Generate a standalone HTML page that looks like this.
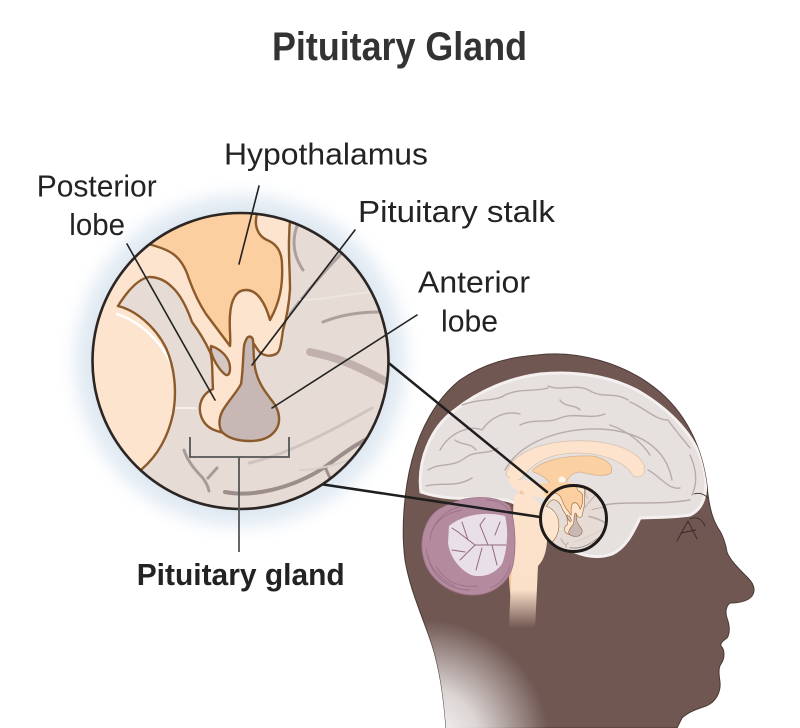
<!DOCTYPE html>
<html><head><meta charset="utf-8"><style>html,body{margin:0;padding:0;background:#fff}svg{display:block}</style></head>
<body>
<svg width="800" height="728" viewBox="0 0 800 728" xmlns="http://www.w3.org/2000/svg" xmlns:xlink="http://www.w3.org/1999/xlink">
<defs>
 <radialGradient id="halo" cx="240.5" cy="361" r="185" gradientUnits="userSpaceOnUse">
  <stop offset="0.78" stop-color="#dbe5ef"/>
  <stop offset="0.87" stop-color="#e9f0f6"/>
  <stop offset="1" stop-color="#ffffff" stop-opacity="0"/>
 </radialGradient>
 <linearGradient id="stem" x1="0" y1="490" x2="0" y2="628" gradientUnits="userSpaceOnUse">
  <stop offset="0" stop-color="#fde3cc"/>
  <stop offset="0.72" stop-color="#fbe0c9"/>
  <stop offset="1" stop-color="#705752"/>
 </linearGradient>
 <radialGradient id="fade" cx="425" cy="745" r="125" gradientUnits="userSpaceOnUse">
  <stop offset="0" stop-color="#fff" stop-opacity="1"/>
  <stop offset="0.45" stop-color="#fff" stop-opacity="0.75"/>
  <stop offset="1" stop-color="#fff" stop-opacity="0"/>
 </radialGradient>
 <clipPath id="bigclip"><circle cx="240.5" cy="361" r="148"/></clipPath>
 <clipPath id="smallclip"><circle cx="573.5" cy="518.5" r="33"/></clipPath>
 <clipPath id="headclip"><path d="M537,355 C575,350 625,362 660,392 C690,418 705,455 708,495 C710,510 713,520 718,528 C723,535 726,545 727,552 C730,560 738,568 748,578 C754,584 756,590 752,596 C748,601 740,603 730,603 C726,606 725,612 727,618 C730,626 730,634 727,638 C723,641 720,643 721,646 C725,650 725,658 721,664 C718,668 719,675 720,682 C721,692 716,702 706,706 C697,709 688,712 682,718 L677,728 L446,728 C444,700 440,670 432,645 C422,615 410,590 405,560 C401,530 404,490 412,460 C420,430 435,400 460,380 C485,363 510,357 537,355 Z"/></clipPath>

 <g id="mag">
  <rect x="80" y="200" width="330" height="330" fill="#e6dcd5"/>
  <g fill="none" stroke-linecap="round">
   <path d="M297,226 C292,240 293,255 303,270" stroke="#ad9f9c" stroke-width="3"/>
   <path d="M345,250 C330,265 312,285 290,314" stroke="#ad9f9c" stroke-width="3"/>
   <path d="M323,322 C340,315 360,312 380,312" stroke="#ad9f9c" stroke-width="3"/>
   <path d="M310,352 C330,356 352,362 390,384" stroke="#c0b1ae" stroke-width="8"/>
   <path d="M249,463 C272,458 305,446 372,408" stroke="#cfc4c0" stroke-width="3"/>
   <path d="M225,492 C250,497 290,490 325,467 C345,452 365,437 392,428" stroke="#9d8e8b" stroke-width="4"/>
   <path d="M325,467 L330,478" stroke="#9d8e8b" stroke-width="3"/>
   <path d="M184,450 C187,460 195,470 202,477 C206,482 208,486 209,491" stroke="#a99b98" stroke-width="3"/>
   <path d="M208,478 L217,468" stroke="#a99b98" stroke-width="3"/>
   <path d="M300,470 C330,470 360,455 392,445" stroke="#d8cfcb" stroke-width="2"/>
   <path d="M176,408 L196,408" stroke="#f4efec" stroke-width="2"/>
   <path d="M300,300 C330,300 360,290 392,292" stroke="#ece5e1" stroke-width="2"/>
  </g>
  <path d="M80,190 L292,190 L290,222 C287,245 290,265 290,289 C289,305 286,320 283,330 C281,345 280,352 276,354 C270,357 262,356 258,350 L253,342 L254,360 C255,372 258,382 264,390 L250,440 L215,432 C203,425 198,412 201,402 C203,396 208,391 213,389 C212,375 213,360 210,352 C204,339 198,330 192,322 C187,308 181,295 172,287 C165,280 157,277 149,277 C138,279 128,290 118,306 L80,306 Z" fill="#fde4cf"/>
  <path d="M80,300 L118,306 C135,310 155,326 166,348 C175,368 177,392 173,414 C168,437 157,456 142,469 L120,500 L80,500 Z" fill="#fde4cf"/>
  <path d="M117,314 C135,320 158,336 170,362" fill="none" stroke="#ffffff" stroke-width="2.5" stroke-linecap="round"/>
  <g fill="none" stroke="#8c5a2b" stroke-width="2.4" stroke-linejoin="round" stroke-linecap="round">
   <path d="M118,306 C135,310 155,326 166,348 C175,368 177,392 173,414 C168,437 157,456 142,469 L128,484"/>
   <path d="M118,306 C128,290 138,279 149,277 C157,277 165,280 172,287 C181,295 187,308 192,322 C198,330 204,339 210,352 C213,360 212,375 213,389 C206,392 201,398 200,406 C199,416 204,425 212,429 C216,431 220,432 224,433"/>
   <path d="M291,210 C287,245 290,265 290,289 C289,305 286,320 283,330 C281,345 280,352 276,354 C270,357 262,356 258,350 L254,344"/>
  </g>
  <path d="M140,200 L258,200 L256.7,215 C254,226 258,236 267,240 C277,244 282,252 282,265 C283,285 280,302 270,320 C265,302 257,290 246,290 C236,290 231,300 230,315 C229,328 231,338 230,346 C224,338 215,326 206,314 C198,302 193,290 189,279 C185,266 179,257 170,252 C163,248 156,246 148,244 L140,240 Z" fill="#fbcf9f" stroke="#8c5a2b" stroke-width="2.4" stroke-linejoin="round"/>
  <path d="M211,346 C218,348 226,354 229,362 C231,369 230,376 226,375 C221,372 214,362 211,352 Z" fill="#d5c8c4" stroke="#8c5a2b" stroke-width="2.4" stroke-linejoin="round"/>
  <path d="M246,340 C248,335 252,336 253,340 C254,350 253,362 256,372 C259,384 266,393 273,402 C279,410 281,420 277,428 C272,437 262,441 250,441 C238,441 228,438 222,432 C218,426 219,417 223,410 C229,400 237,392 241,384 C243,372 243,355 244,347 C244,344 245,342 246,340 Z" fill="#c7b8b5" stroke="#8c5a2b" stroke-width="2.4" stroke-linejoin="round"/>
 </g>
</defs>

<rect width="800" height="728" fill="#fff"/>

<circle cx="240.5" cy="361" r="185" fill="url(#halo)"/>

<path d="M537,355 C575,350 625,362 660,392 C690,418 705,455 708,495 C710,510 713,520 718,528 C723,535 726,545 727,552 C730,560 738,568 748,578 C754,584 756,590 752,596 C748,601 740,603 730,603 C726,606 725,612 727,618 C730,626 730,634 727,638 C723,641 720,643 721,646 C725,650 725,658 721,664 C718,668 719,675 720,682 C721,692 716,702 706,706 C697,709 688,712 682,718 L677,728 L446,728 C444,700 440,670 432,645 C422,615 410,590 405,560 C401,530 404,490 412,460 C420,430 435,400 460,380 C485,363 510,357 537,355 Z" fill="#705752" stroke="#4a3834" stroke-width="1"/>

<g clip-path="url(#headclip)">
 <path d="M421,492 C417,462 430,428 455,410 C480,390 510,378 540,374 C580,370 615,378 640,392 C670,410 695,435 703,465 C709,490 705,508 690,515 C670,518 655,517 640,518 C632,535 625,548 612,554 C598,559 585,556 575,552 L545,535 C530,512 520,503 505,500 C480,497 450,502 421,492 Z" fill="#e6e0df" stroke="#f4f0ef" stroke-width="3"/>
 <g fill="none" stroke="#b8acaa" stroke-width="1.4" stroke-linecap="round">
  <path d="M440,450 C450,432 470,425 482,430 C490,418 505,410 520,414"/>
  <path d="M462,405 C480,398 495,402 505,395 C520,388 535,392 548,388"/>
  <path d="M548,386 C562,392 578,382 592,392 C605,398 615,392 628,400"/>
  <path d="M630,402 C645,408 655,420 668,420 C675,430 682,438 690,448"/>
  <path d="M690,455 C696,468 698,482 692,495"/>
  <path d="M505,470 C520,442 560,428 600,429 C640,431 666,448 672,480"/>
  <path d="M428,470 C440,462 452,468 465,458 C475,450 488,455 498,448"/>
  <path d="M426,486 C440,482 456,488 472,478"/>
  <path d="M520,425 C535,418 548,424 560,418 C575,412 590,420 605,414"/>
  <path d="M610,425 C625,430 640,440 650,455"/>
  <path d="M600,506 C622,500 652,506 690,500"/>
  <path d="M648,470 C660,476 668,490 680,488"/>
  <path d="M455,440 C462,446 470,442 476,450"/>
  <path d="M560,400 C565,408 575,404 580,410"/>
 </g>
 <path d="M506,474 C510,456 535,443 570,441 C605,439 636,448 644,465 C647,474 641,479 633,476 C626,462 603,453 577,453 C553,453 534,461 522,478 C516,482 509,480 506,474 Z" fill="#fde3cc" stroke="#d9c2ae" stroke-width="0.8"/>
 <path d="M533,470 C543,460 566,455 592,456 C607,458 614,466 611,473 C603,478 590,474 580,472 C571,472 566,480 563,490 L555,492 C551,482 544,475 533,472 Z" fill="#fbd1a3" stroke="#d9b08a" stroke-width="0.8"/>
 <circle cx="562" cy="480" r="3.5" fill="#fff4ea"/>
 <path d="M507,478 C512,490 525,497 545,498 L552,488 C540,482 528,480 520,480 Z" fill="#fde3cc"/>
 <path d="M540,484 C555,481 575,482 592,488 L588,502 L548,502 Z" fill="#fbd1a3"/>
 <path d="M521,490 C514,505 510,525 509,550 C508,570 509,585 511,600 L515,600 C514,570 516,530 528,498 Z" fill="#f2c597"/>
 <path d="M516,494 C532,492 546,505 547,525 C548,545 546,558 538,566 L535,630 L509,630 C510,595 512,565 513,540 C513,520 512,502 516,494 Z" fill="url(#stem)"/>
 <path d="M443,507 C465,495 495,494 510,506 C516,525 516,550 513,565 C508,585 490,596 470,595 C450,594 430,580 424,560 C418,540 425,515 443,507 Z" fill="#b48b9e" stroke="#9a7085" stroke-width="0.8"/>
 <g fill="none" stroke="#94697f" stroke-width="0.9" opacity="0.75">
  <path d="M430,540 C432,522 445,510 462,506"/>
  <path d="M428,555 C430,575 448,590 470,590"/>
  <path d="M436,566 C445,582 460,588 478,586"/>
  <path d="M432,530 C438,518 450,512 462,510"/>
  <path d="M490,588 C500,585 508,575 510,565"/>
  <path d="M486,500 C498,500 506,505 510,512"/>
  <path d="M426,548 C428,566 440,580 455,586"/>
 </g>
 <path d="M449,526 C462,515 485,511 505,516 C509,531 507,551 502,564 C494,575 482,578 471,575 C459,569 450,557 448,543 Z" fill="#e9dfe6"/>
 <g fill="none" stroke="#93697f" stroke-width="1" stroke-linecap="round">
  <path d="M506,545 L475,545 L458,532"/>
  <path d="M475,545 L460,560"/>
  <path d="M488,545 L480,525"/>
  <path d="M492,545 L497,565"/>
  <path d="M468,540 L462,522"/>
  <path d="M482,548 L476,570"/>
  <path d="M465,552 L452,550"/>
  <path d="M495,535 L500,522"/>
  <path d="M458,532 L452,528"/>
  <path d="M480,525 L485,518"/>
 </g>
 <g fill="none" stroke="#3b2a27" stroke-width="0.9" stroke-linecap="round">
  <path d="M677,541 L688,521 L697,539"/>
  <path d="M681,533 L696,530"/>
  <path d="M690,519 C696,516 702,519 705,526"/>
  <path d="M694,494 C700,492 705,495 708,498"/>
 </g>
 <rect x="380" y="560" width="180" height="170" fill="url(#fade)"/>
</g>

<g clip-path="url(#smallclip)">
 <g transform="translate(519.87,438) scale(0.223)"><use xlink:href="#mag" href="#mag"/></g>
</g>
<circle cx="573.5" cy="518.5" r="33" fill="none" stroke="#1e1a19" stroke-width="3"/>

<g stroke="#1e1e1e" stroke-width="2.5" stroke-linecap="round">
 <line x1="385" y1="360" x2="547" y2="492"/>
 <line x1="320" y1="484" x2="540" y2="517"/>
</g>

<g clip-path="url(#bigclip)"><use xlink:href="#mag" href="#mag"/></g>
<circle cx="240.5" cy="361" r="148" fill="none" stroke="#2b2523" stroke-width="2.6"/>

<g stroke="#222" stroke-width="1.6" stroke-linecap="round">
 <line x1="259" y1="186" x2="239" y2="264"/>
 <line x1="127" y1="244" x2="215" y2="400"/>
 <line x1="355" y1="230" x2="252" y2="365"/>
 <line x1="417" y1="315" x2="272" y2="408"/>
</g>
<path d="M190,437 L190,457 L289,457 L289,437 M239,457 L239,552" fill="none" stroke="#555" stroke-width="1.8"/>

<g font-family="'Liberation Sans', Arial, sans-serif" fill="#232323">
 <text x="272" y="60" font-size="40" font-weight="bold" fill="#333" textLength="255" lengthAdjust="spacingAndGlyphs">Pituitary Gland</text>
 <text x="224" y="164.5" font-size="31" textLength="204" lengthAdjust="spacingAndGlyphs">Hypothalamus</text>
 <text x="36.7" y="196.7" font-size="31" textLength="120" lengthAdjust="spacingAndGlyphs">Posterior</text>
 <text x="69.3" y="235" font-size="31" textLength="55.7" lengthAdjust="spacingAndGlyphs">lobe</text>
 <text x="358" y="222" font-size="31" textLength="197" lengthAdjust="spacingAndGlyphs">Pituitary stalk</text>
 <text x="418" y="292.7" font-size="31" textLength="112" lengthAdjust="spacingAndGlyphs">Anterior</text>
 <text x="441" y="331.7" font-size="31" textLength="57" lengthAdjust="spacingAndGlyphs">lobe</text>
 <text x="136.7" y="585" font-size="31" font-weight="bold" textLength="208" lengthAdjust="spacingAndGlyphs">Pituitary gland</text>
</g>
</svg>
</body></html>
